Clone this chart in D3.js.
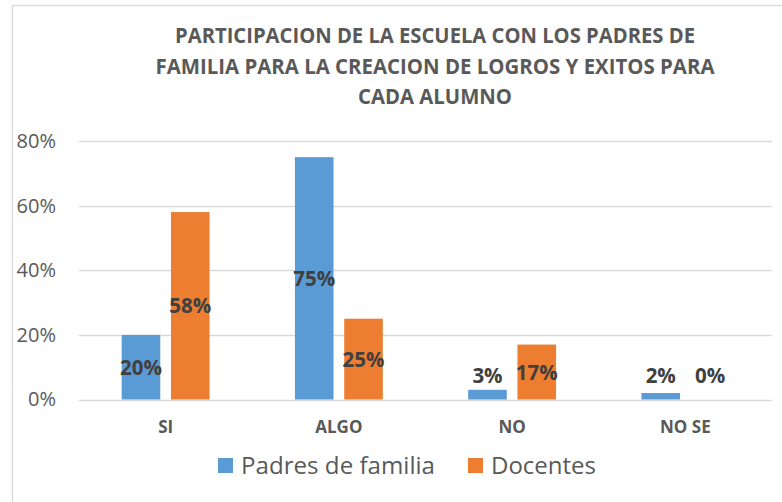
<!DOCTYPE html>
<meta charset="utf-8">
<head>
  <style>
    body { margin: 0; background: #fff; }
    text { font-family: "Open Sans", Arial, sans-serif; }
  </style>
</head>
<body>
<script src="https://cdn.jsdelivr.net/npm/d3@7"></script>
<script>

// data
var categories = ["SI", "ALGO", "NO", "NO SE"];
var series = ["Padres de familia", "Docentes"];
var padres = [0.20, 0.75, 0.03, 0.02];
var docentes = [0.58, 0.25, 0.17, 0.00];
var yTicks = [0, 0.2, 0.4, 0.6, 0.8];
var titleLines = ["PARTICIPACION DE LA ESCUELA CON LOS PADRES DE",
                  "FAMILIA PARA LA CREACION DE LOGROS Y EXITOS PARA",
                  "CADA ALUMNO"];

var colors = {"Padres de familia": "#5B9BD5", "Docentes": "#ED7D31"};
var W = 782, H = 502;

var svg = d3.select("body").append("svg")
    .attr("width", W)
    .attr("height", H);

// chart frame
svg.append("rect")
    .attr("x", 12.5).attr("y", 5.5)
    .attr("width", 900).attr("height", 700)
    .attr("fill", "#fff")
    .attr("stroke", "#D9D9D9")
    .attr("stroke-width", 1.3);

// title
var titleW = [520, 559, 154];
svg.selectAll(".title")
    .data(titleLines)
  .enter().append("text")
    .attr("class", "title")
    .attr("x", 435)
    .attr("y", function(d, i) { return 43 + i * 30.5; })
    .attr("text-anchor", "middle")
    .attr("textLength", function(d, i) { return titleW[i]; })
    .attr("lengthAdjust", "spacingAndGlyphs")
    .style("font-size", "20.5px")
    .style("font-weight", "bold")
    .attr("fill", "#595959")
    .text(function(d) { return d; });

// scales
var x0 = d3.scaleBand().domain(categories).range([79, 772]);
var x1 = d3.scaleBand().domain(series).range([0, x0.bandwidth()])
    .paddingInner(0.217).paddingOuter(0.866);
var y = d3.scaleLinear().domain([0, 0.8]).range([399.5, 141]);

// gridlines
svg.append("g")
    .selectAll("line")
    .data(yTicks)
  .enter().append("line")
    .attr("x1", 79).attr("x2", 772)
    .attr("y1", function(d) { return Math.round(y(d)) + 0.5; })
    .attr("y2", function(d) { return Math.round(y(d)) + 0.5; })
    .attr("stroke", "#D9D9D9")
    .attr("stroke-width", 1.5);

// y axis
var yAxis = d3.axisLeft(y)
    .tickValues(yTicks)
    .tickSize(0)
    .tickPadding(0)
    .tickFormat(d3.format(".0%"));
var gy = svg.append("g")
    .attr("transform", "translate(56,0)")
    .call(yAxis);
gy.select(".domain").remove();
gy.selectAll("text")
    .attr("fill", "#595959")
    .style("font-size", "20px")
    .style("font-family", "'Open Sans', Arial, sans-serif");

// bars
var rows = categories.map(function(c, i) {
  return {cat: c, vals: [{s: series[0], v: padres[i]}, {s: series[1], v: docentes[i]}]};
});

var groups = svg.selectAll(".grp")
    .data(rows)
  .enter().append("g")
    .attr("class", "grp")
    .attr("transform", function(d) { return "translate(" + x0(d.cat) + ",0)"; });

groups.selectAll("rect")
    .data(function(d) { return d.vals; })
  .enter().append("rect")
    .attr("x", function(d) { return x1(d.s); })
    .attr("y", function(d) { return y(d.v); })
    .attr("width", x1.bandwidth())
    .attr("height", function(d) { return y(0) - y(d.v); })
    .attr("fill", function(d) { return colors[d.s]; });

// data labels
groups.selectAll(".lbl")
    .data(function(d) { return d.vals; })
  .enter().append("text")
    .attr("class", "lbl")
    .attr("x", function(d) { return x1(d.s) + x1.bandwidth() / 2; })
    .attr("y", function(d) {
      var c = (y(d.v) + y(0)) / 2;
      return Math.min(c, y(0) - 24) + 7.5;
    })
    .attr("text-anchor", "middle")
    .style("font-size", "20.5px")
    .style("font-weight", "bold")
    .attr("fill", "#404040")
    .text(function(d) { return d3.format(".0%")(d.v); });

// x axis labels
var xAxis = d3.axisBottom(x0).tickSize(0).tickPadding(0);
var gx = svg.append("g")
    .attr("transform", "translate(0,421)")
    .call(xAxis);
gx.select(".domain").remove();
gx.selectAll("text")
    .attr("fill", "#595959")
    .style("font-size", "17px")
    .style("font-weight", "bold")
    .style("font-family", "'Open Sans', Arial, sans-serif");

// legend
var legX = [218, 468];
var legW = [194, 105];
var leg = svg.selectAll(".leg")
    .data(series)
  .enter().append("g")
    .attr("class", "leg")
    .attr("transform", function(d, i) { return "translate(" + legX[i] + ",458)"; });
leg.append("rect")
    .attr("width", 15).attr("height", 15)
    .attr("fill", function(d) { return colors[d]; });
leg.append("text")
    .attr("x", 23).attr("y", 16)
    .attr("textLength", function(d, i) { return legW[i]; })
    .attr("lengthAdjust", "spacingAndGlyphs")
    .style("font-size", "23px")
    .attr("fill", "#595959")
    .text(function(d) { return d; });

</script>
</body>
